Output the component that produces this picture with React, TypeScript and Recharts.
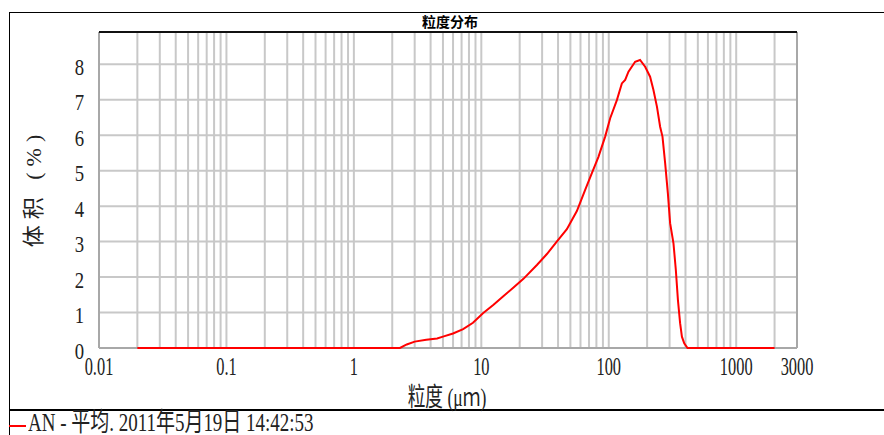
import React from 'react';
import { LineChart, Line, XAxis, YAxis, CartesianGrid, ReferenceLine } from 'recharts';

// particle size (µm) and volume (%)
const particleSizes = [
  0.02, 2.3, 2.6, 3.0, 3.7, 4.5, 5.0, 6.0, 7.2, 8.6, 10.3, 12.4, 14.8, 17.8, 21.4, 27.3, 32.7,
  39.1, 46.9, 56.2, 65.3, 73.7, 83.0, 93.7, 102.6, 115.8, 126.7, 134.5, 142.8, 161, 176, 193,
  211, 224, 239, 253, 264, 277, 291, 303, 322, 336, 349, 363, 375, 391, 415, 2000,
];
const volumePercent = [
  0, 0, 0.1, 0.18, 0.23, 0.27, 0.32, 0.41, 0.53, 0.71, 0.98, 1.21, 1.45, 1.7, 1.95, 2.34, 2.65,
  3.0, 3.35, 3.86, 4.46, 4.93, 5.39, 5.96, 6.48, 6.99, 7.46, 7.56, 7.79, 8.07, 8.12, 7.93,
  7.65, 7.28, 6.8, 6.24, 5.96, 5.21, 4.36, 3.52, 2.95, 2.2, 1.35, 0.7, 0.32, 0.13, 0, 0,
];

const xTicks = [0.01, 0.1, 1, 10, 100, 1000, 3000];
const xTickLabels = ['0.01', '0.1', '1', '10', '100', '1000', '3000'];
const yTicks = [0, 1, 2, 3, 4, 5, 6, 7, 8];
const xMin = 0.01;
const xMax = 3000;
const yMax = 8.91;
const gridDecades = [0.01, 0.1, 1, 10, 100, 1000];
const gridMultiples = [1, 2, 3, 4, 5, 6, 7, 8, 9];

const chartTitle = '粒度分布';
const xTitle = '粒度 (μｍ)';
const yTitle = '体积 (%)';
const seriesName = 'AN - 平均. 2011年5月19日 14:42:53';

const data = particleSizes.map((s, i) => ({ size: s, vol: volumePercent[i] }));
const gridValues = gridDecades
  .flatMap((d) => gridMultiples.map((m) => +(d * m).toPrecision(3)))
  .filter((v) => v > xMin && v <= 2000);

const FONT = '"Liberation Serif", "Noto Sans CJK SC", serif';
const TEXT = '#222';
const GRID = '#c8c8c8';
const AXIS = '#a8a8a8';

const XTick = (props: any) => {
  const { x, y, payload } = props;
  const idx = xTicks.indexOf(payload.value);
  return (
    <text
      transform={`translate(${x},${y + 25}) scale(0.63,1)`}
      textAnchor="middle"
      fontFamily={FONT}
      fontSize={26}
      fill={TEXT}
    >
      {idx >= 0 ? xTickLabels[idx] : String(payload.value)}
    </text>
  );
};

const YTick = (props: any) => {
  const { x, y, payload } = props;
  return (
    <text
      transform={`translate(${x - 13},${y + 10.5}) scale(0.78,1)`}
      textAnchor="end"
      fontFamily={FONT}
      fontSize={24}
      fill={TEXT}
    >
      {payload.value}
    </text>
  );
};

const XLabel = (props: any) => {
  const vb = props.viewBox || { x: 99, y: 348, width: 698 };
  return (
    <text
      transform={`translate(${vb.x + vb.width / 2 - 1},${vb.y + 58}) scale(0.68,1)`}
      textAnchor="middle"
      fontFamily={FONT}
      fontSize={26}
      fill={TEXT}
    >
      {xTitle}
    </text>
  );
};

const YLabel = (props: any) => {
  const vb = props.viewBox || { x: 59, y: 32, width: 40, height: 316 };
  const cx = vb.x - 26;
  const cy = vb.y + vb.height / 2 - 2;
  return (
    <text
      transform={`translate(${cx},${cy}) rotate(-90)`}
      textAnchor="middle"
      dominantBaseline="central"
      fontFamily={FONT}
      fontSize={22}
      letterSpacing={6}
      fill={TEXT}
    >
      {yTitle}
    </text>
  );
};

export default function App() {
  return (
    <div style={{ position: 'absolute', left: 0, top: 0, width: 884, height: 435, background: '#fff', overflow: 'hidden' }}>
      <div style={{ position: 'absolute', left: 9, top: 12, width: 875, height: 1, background: '#000' }} />
      <div style={{ position: 'absolute', left: 9, top: 12, width: 1, height: 423, background: '#000' }} />
      <div style={{ position: 'absolute', left: 9, top: 409, width: 875, height: 2, background: '#000' }} />
      <div style={{ position: 'absolute', left: 0, top: 0 }}>
        <LineChart width={884} height={435} data={data} margin={{ top: 32, right: 87, bottom: 57, left: 59 }}>
          <CartesianGrid vertical={false} stroke={GRID} strokeWidth={2} />
          {gridValues.map((v) => (
            <ReferenceLine key={v} x={v} stroke={GRID} strokeWidth={2} />
          ))}
          <ReferenceLine x={xMax} stroke={AXIS} strokeWidth={2} />
          <ReferenceLine x={xMin} stroke={AXIS} strokeWidth={2} />
          <ReferenceLine y={0} stroke={AXIS} strokeWidth={2} />
          <ReferenceLine y={yMax} stroke="#111" strokeWidth={2} />
          <XAxis
            dataKey="size"
            type="number"
            scale="log"
            domain={[xMin, xMax]}
            ticks={xTicks}
            interval={0}
            height={30}
            axisLine={false}
            tickLine={false}
            tickSize={0}
            tick={<XTick />}
            label={{ content: XLabel }}
          />
          <YAxis
            type="number"
            domain={[0, yMax]}
            ticks={yTicks}
            interval={0}
            width={40}
            axisLine={false}
            tickLine={false}
            tickSize={0}
            tick={<YTick />}
            label={{ content: YLabel }}
          />
          <Line
            type="linear"
            dataKey="vol"
            name={seriesName}
            stroke="#ff0000"
            strokeWidth={2}
            dot={false}
            activeDot={false}
            isAnimationActive={false}
          />
        </LineChart>
      </div>
      <div
        style={{
          position: 'absolute', left: 400, top: 14, width: 100, textAlign: 'center',
          fontFamily: '"Noto Sans CJK SC", sans-serif', fontWeight: 'bold', fontSize: 14, lineHeight: '14px', color: '#000',
        }}
      >
        {chartTitle}
      </div>
      <div style={{ position: 'absolute', left: 9, top: 412, width: 600, height: 22, display: 'flex', alignItems: 'center' }}>
        <span style={{ display: 'inline-block', width: 17, height: 2, background: '#ff0000', marginTop: 6, flex: 'none' }} />
        <span
          style={{
            display: 'inline-block', marginLeft: 2, whiteSpace: 'nowrap', fontFamily: FONT, fontSize: 26, flex: 'none',
            lineHeight: '22px', color: TEXT, transform: 'scaleX(0.73)', transformOrigin: 'left center',
          }}
        >
          {seriesName}
        </span>
      </div>
    </div>
  );
}
